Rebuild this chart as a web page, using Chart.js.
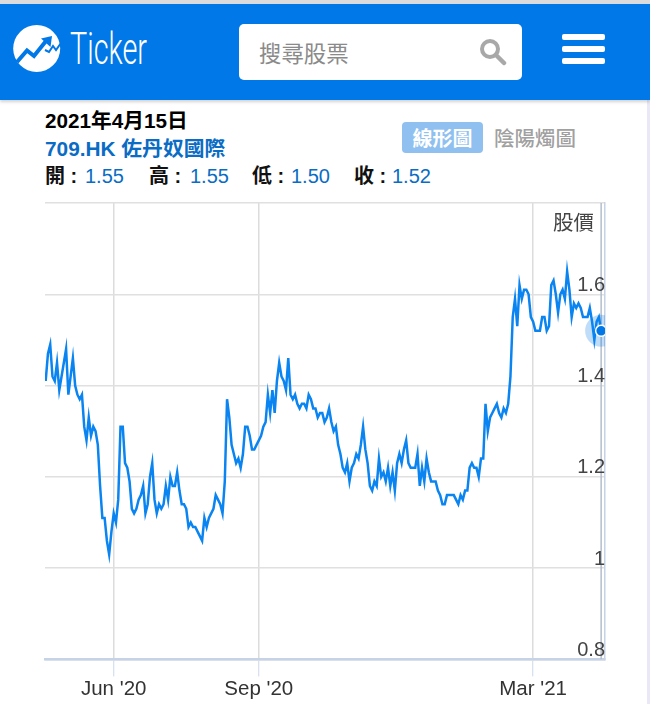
<!DOCTYPE html>
<html lang="zh-Hant">
<head>
<meta charset="utf-8">
<title>709.HK 佐丹奴國際</title>
<script src="https://cdn.jsdelivr.net/npm/chart.js@4/dist/chart.umd.min.js"></script>
<style>
html,body{margin:0;padding:0;background:#fff;}
body{width:650px;height:704px;position:relative;overflow:hidden;font-family:"Liberation Sans","Noto Sans CJK TC",sans-serif;}
.abs{position:absolute;white-space:nowrap;}
#strip{left:0;top:0;width:650px;height:4px;background:#dcdcdc;}
#edge{left:647px;top:100px;width:3px;height:604px;background:#e8e8f6;}
#header{left:0;top:4px;width:650px;height:96px;background:#0078e7;box-shadow:0 2px 3px rgba(0,0,0,.18);}
#search{left:239px;top:24px;width:283px;height:56px;background:#fff;border-radius:5px;}
#placeholder{left:259px;top:36px;font-size:22.4px;line-height:32px;color:#8a8a8a;font-family:"Noto Sans CJK TC",sans-serif;}
.bar{left:562px;width:43px;height:6px;background:#fff;border-radius:2px;}
#date{left:45px;top:108px;font-size:20.7px;line-height:26px;font-weight:bold;color:#000;}
#name{left:45px;top:136px;font-size:20.8px;line-height:26px;font-weight:bold;color:#0a6cc4;}
.k{top:163px;font-size:20px;line-height:26px;font-weight:bold;color:#111;}
.v{top:163px;font-size:20px;line-height:26px;color:#0a6cc4;}
#btnLine{left:402px;top:122px;width:81px;height:31px;background:#8fc0ef;border-radius:4px;color:#fff;font-size:20px;line-height:31px;font-weight:bold;text-align:center;font-family:"Noto Sans CJK TC",sans-serif;}
#btnCandle{left:494px;top:122px;height:31px;color:#a0a0a0;font-size:20.5px;line-height:31px;font-weight:500;font-family:"Noto Sans CJK TC",sans-serif;}
#yTitle{left:553px;top:207px;font-size:20.5px;line-height:28px;color:#444;font-family:"Noto Sans CJK TC",sans-serif;}
#chartBox{left:0;top:0;width:650px;height:704px;}
</style>
</head>
<body>
<div class="abs" id="strip"></div>
<div class="abs" id="edge"></div>
<div class="abs" id="header"></div>
<svg class="abs" style="left:0;top:0" width="240" height="100" viewBox="0 0 240 100">
  <circle cx="36.7" cy="48.5" r="23.5" fill="#fff"/>
  <polyline points="17,62 27,50.5 34,56 46,41" fill="none" stroke="#0078e7" stroke-width="4"/>
  <polygon points="41,38.5 52,36 50.5,47" fill="#0078e7"/>
  <polyline points="45,50 49,52 53,46 56,50 61,43" fill="none" stroke="#0078e7" stroke-width="2"/>
  <text x="70" y="64" font-family="Roboto" font-weight="300" font-size="44" fill="#fff" textLength="77" lengthAdjust="spacingAndGlyphs">Ticker</text>
</svg>
<div class="abs" id="search"></div>
<div class="abs" id="placeholder">搜尋股票</div>
<svg class="abs" style="left:478px;top:38px" width="30" height="28" viewBox="0 0 30 28">
  <circle cx="12" cy="11" r="8" fill="none" stroke="#a8a8a8" stroke-width="4"/>
  <line x1="18" y1="17" x2="26" y2="25" stroke="#a8a8a8" stroke-width="4.5" stroke-linecap="round"/>
</svg>
<div class="abs bar" style="top:34px"></div>
<div class="abs bar" style="top:46px"></div>
<div class="abs bar" style="top:58px"></div>
<div class="abs" id="date">2021年4月15日</div>
<div class="abs" id="name">709.HK 佐丹奴國際</div>
<div class="abs k" style="left:45px">開 :</div><div class="abs v" style="left:85px">1.55</div>
<div class="abs k" style="left:149px">高 :</div><div class="abs v" style="left:190px">1.55</div>
<div class="abs k" style="left:252px">低 :</div><div class="abs v" style="left:291px">1.50</div>
<div class="abs k" style="left:354px">收 :</div><div class="abs v" style="left:392px">1.52</div>
<div class="abs" id="btnLine">線形圖</div>
<div class="abs" id="btnCandle">陰陽燭圖</div>
<div class="abs" id="chartBox"><canvas id="c" width="650" height="704"></canvas></div>
<div class="abs" id="yTitle">股價</div>
<script>
const prices = [
1.41,1.47,1.49,1.42,1.41,1.45,1.39,1.42,1.45,1.48,1.38,1.42,1.46,1.40,1.38,1.37,1.38,1.31,1.28,1.33,
1.29,1.31,1.30,1.27,1.18,1.11,1.11,1.06,1.03,1.08,1.12,1.10,1.15,1.31,1.31,1.23,1.22,1.19,1.13,1.12,
1.13,1.15,1.16,1.18,1.12,1.14,1.20,1.23,1.15,1.12,1.14,1.13,1.14,1.18,1.15,1.20,1.18,1.18,1.21,1.17,
1.14,1.14,1.13,1.09,1.10,1.09,1.09,1.08,1.07,1.06,1.11,1.09,1.11,1.12,1.13,1.16,1.15,1.14,1.12,1.19,
1.37,1.33,1.27,1.25,1.23,1.24,1.22,1.25,1.31,1.31,
1.29,1.26,1.26,1.27,1.28,1.29,1.31,1.32,1.38,1.34,1.39,1.34,1.41,1.45,1.42,1.41,1.39,1.46,1.38,1.37,
1.38,1.36,1.35,1.36,1.36,1.35,1.38,1.37,1.35,1.35,1.33,1.34,1.34,1.32,1.33,1.35,1.32,1.30,1.31,1.27,
1.25,1.22,1.21,1.23,1.19,1.22,1.23,1.25,1.24,1.27,1.31,1.26,1.23,1.18,1.17,1.19,1.18,1.24,1.20,1.21,
1.19,1.22,1.18,1.21,1.17,1.23,1.25,1.23,1.26,1.28,1.23,1.22,1.22,1.22,1.25,1.18,1.22,1.19,1.24,1.21,
1.19,1.19,1.19,1.17,1.16,1.14,1.14,1.16,1.16,1.16,1.16,1.15,1.14,
1.16,1.15,1.17,1.17,1.22,1.23,1.22,1.22,1.20,1.24,1.24,1.36,1.30,1.33,1.34,1.35,1.36,1.34,1.33,1.35,
1.34,1.36,1.42,1.55,1.59,1.53,1.62,1.59,1.61,1.61,1.60,1.55,1.54,1.52,1.52,1.52,1.55,1.55,1.52,1.53,
1.62,1.63,1.60,1.56,1.60,1.61,1.59,1.65,1.61,1.55,1.58,1.57,1.58,1.57,1.55,1.55,1.55,1.57,1.54,1.50,
1.54,1.55,1.52
];
const xTickIndex = [30, 94, 215];
const xTickLabels = ["Jun '20", "Sep '20", "Mar '21"];
const yTicks = [0.8, 1.0, 1.2, 1.4, 1.6, 1.8];
const yTickLabels = ["0.8", "1", "1.2", "1.4", "1.6", ""];

const lastIndex = prices.length - 1;
const lastPrice = prices[lastIndex];
const linePoints = prices.map((v, i) => ({x: i, y: v}));
const lastPoint = [{x: lastIndex, y: lastPrice}];
const crosshair = [{x: lastIndex, y: yTicks[0]}, {x: lastIndex, y: yTicks[yTicks.length - 1]}];

new Chart(document.getElementById('c'), {
  type: 'line',
  data: {
    datasets: [
      {data: lastPoint, order: 1, showLine: false, pointRadius: 5.5, pointHoverRadius: 5.5,
       pointBackgroundColor: '#0078e7', pointBorderColor: '#ffffff', pointBorderWidth: 1.5},
      {data: linePoints, order: 2, borderColor: '#0a84f0', borderWidth: 2.5, pointRadius: 0,
       tension: 0, borderJoinStyle: 'miter'},
      {data: lastPoint, order: 3, showLine: false, pointRadius: 16, pointHoverRadius: 16,
       pointBackgroundColor: 'rgba(0,120,231,0.25)', pointBorderWidth: 0},
      {data: crosshair, order: 4, borderColor: '#b4bdcc', borderWidth: 1.5, pointRadius: 0}
    ]
  },
  options: {
    responsive: false,
    animation: false,
    events: [],
    devicePixelRatio: 1,
    layout: {padding: {left: 45, right: 45, top: 203, bottom: 1}},
    plugins: {legend: {display: false}, tooltip: {enabled: false}},
    scales: {
      x: {
        type: 'linear',
        min: -0.3,
        max: 246.7,
        afterBuildTicks: ax => { ax.ticks = xTickIndex.map(v => ({value: v})); },
        grid: {color: '#dcdcdc', lineWidth: 1.5, drawTicks: true, tickLength: 17, tickColor: '#ccd6eb', tickWidth: 1},
        border: {display: true, color: '#c6d2e6', width: 2.5},
        ticks: {
          autoSkip: false, maxRotation: 0, padding: 1,
          color: '#333', font: {family: '"Liberation Sans"', size: 20.5},
          callback: v => xTickLabels[xTickIndex.indexOf(v)]
        }
      },
      y: {
        type: 'linear',
        position: 'right',
        min: 0.8,
        max: 1.8,
        afterBuildTicks: ax => { ax.ticks = yTicks.map(v => ({value: v})); },
        grid: {color: '#e0e0e0', lineWidth: 1.5, drawTicks: false},
        border: {display: true, color: '#c6d2e6', width: 1.5},
        ticks: {
          mirror: true, padding: 0, labelOffset: -9, z: 1,
          color: '#444', font: {family: '"Liberation Sans"', size: 20},
          callback: v => yTickLabels[yTicks.findIndex(t => Math.abs(t - v) < 1e-6)]
        }
      }
    }
  }
});
</script>
</body>
</html>
